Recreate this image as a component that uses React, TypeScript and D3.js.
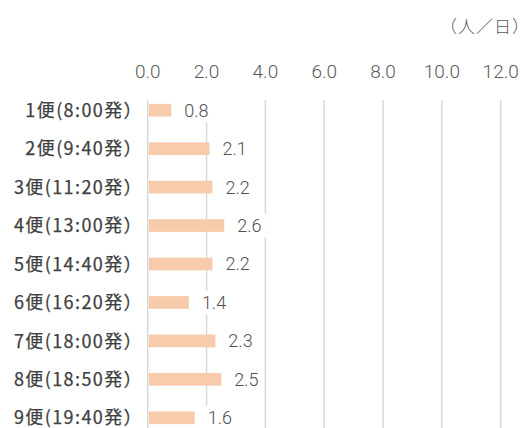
import React from "react";
import * as d3 from "d3";

const categories = [
  "1便(8:00発）",
  "2便(9:40発）",
  "3便(11:20発）",
  "4便(13:00発）",
  "5便(14:40発）",
  "6便(16:20発）",
  "7便(18:00発）",
  "8便(18:50発）",
  "9便(19:40発）",
];
const values = [0.8, 2.1, 2.2, 2.6, 2.2, 1.4, 2.3, 2.5, 1.6];
const ticks = [0, 2, 4, 6, 8, 10, 12];
const unitLabel = "（人／日）";

const W = 530;
const H = 428;
const JP = "'Noto Sans CJK JP', 'Noto Sans', sans-serif";
const NUM = "Roboto, 'Noto Sans', sans-serif";

export default function App() {
  const x = d3.scaleLinear().domain([0, 12]).range([147.7, 500.7]);
  const y = d3
    .scaleBand<string>()
    .domain(categories)
    .range([91, 437])
    .paddingInner(0.67)
    .paddingOuter(0.335);
  const bw = y.bandwidth();
  return (
    <svg
      width={W}
      height={H}
      style={{ position: "absolute", left: 0, top: 0, background: "#fff" }}
    >
      <text
        x={530}
        y={33}
        textAnchor="end"
        fontSize={17}
        fontFamily={JP}
        fontWeight={300}
        letterSpacing={1}
        fill="#595959"
      >
        {unitLabel}
      </text>
      {ticks.map((t) => (
        <g key={t}>
          <line
            x1={x(t)}
            x2={x(t)}
            y1={100}
            y2={H}
            stroke="#d9d9d9"
            strokeWidth={1.5}
          />
          <text
            x={x(t)}
            y={78}
            textAnchor="middle"
            fontSize={19}
            fontFamily={NUM}
            fontWeight={300}
            fill="#595959"
          >
            {d3.format(".1f")(t)}
          </text>
        </g>
      ))}
      {categories.map((c, i) => {
        const yc = (y(c) as number) + bw / 2;
        const v = values[i];
        const lx = x(v) + 13;
        return (
          <g key={c}>
            <rect
              x={x(0) + 1}
              y={y(c)}
              width={x(v) - x(0) - 1}
              height={bw}
              fill="#F8CBAD"
            />
            <rect x={lx - 5} y={yc - 12} width={34} height={24} fill="#fff" />
            <text
              x={lx}
              y={yc}
              dy="0.36em"
              fontSize={18}
              fontFamily={NUM}
              fontWeight={300}
              fill="#505050"
            >
              {d3.format(".1f")(v)}
            </text>
            <text
              x={143}
              y={yc}
              dy="0.37em"
              textAnchor="end"
              fontSize={18}
              fontFamily={JP}
              fontWeight={400}
              letterSpacing={1.4}
              stroke="#404040"
              strokeWidth={0.25}
              fill="#404040"
            >
              {c}
            </text>
          </g>
        );
      })}
    </svg>
  );
}
